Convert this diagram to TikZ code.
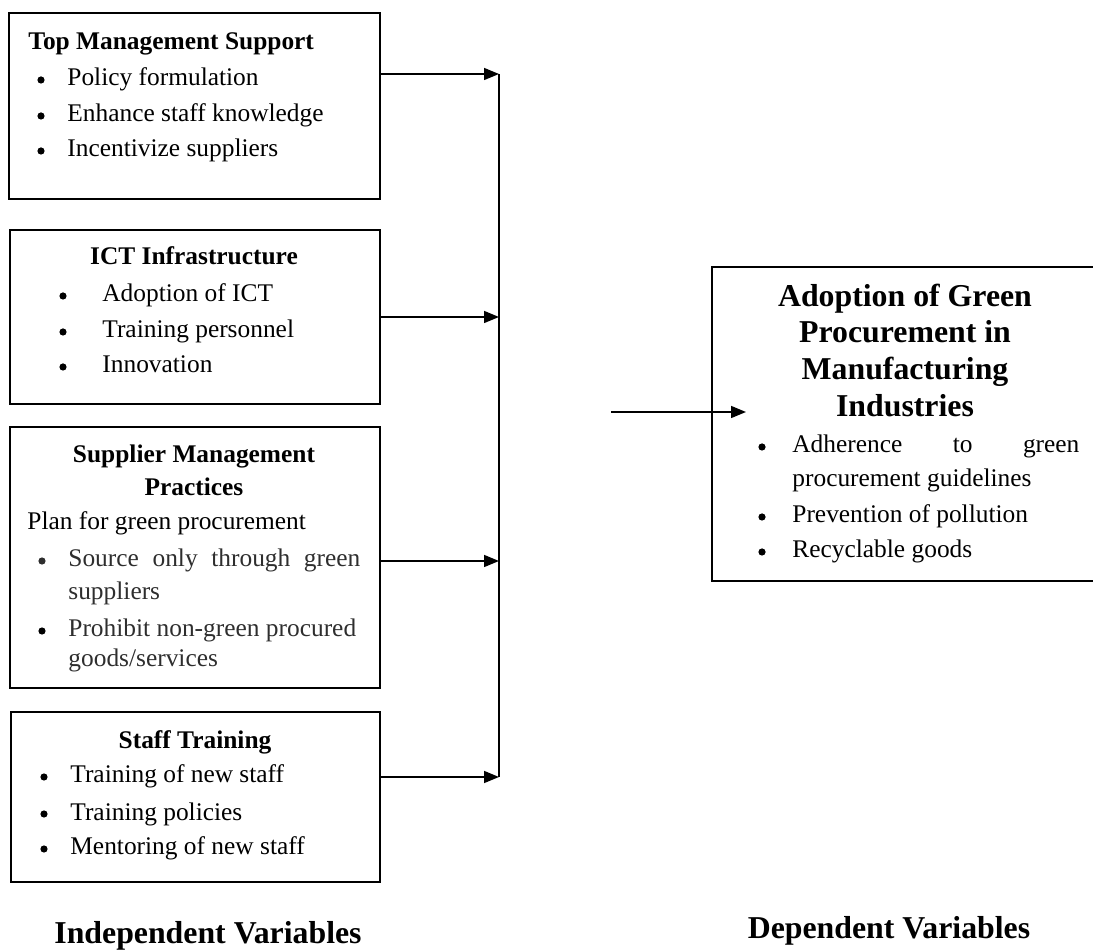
\documentclass[tikz,border=0pt]{standalone}
\usepackage{fontspec}
\setmainfont{Liberation Serif}
\usetikzlibrary{arrows.meta}
\begin{document}
\begin{tikzpicture}[x=0.5pt,y=-0.5pt,
  box/.style={draw=black,line width=1pt},
  body/.style={inner sep=0pt,font=\fontsize{12.7pt}{17pt}\selectfont},
  txt/.style={body,anchor=base west},
  bul/.style={circle,fill=black,inner sep=0pt,minimum size=3.6pt},
  head/.style={inner sep=0pt,anchor=base,font=\fontsize{12.7pt}{17pt}\selectfont\bfseries},
  bighead/.style={inner sep=0pt,anchor=base,font=\fontsize{15.9pt}{20pt}\selectfont\bfseries},
  conn/.style={draw=black,line width=0.75pt},
  arr/.style={conn,-{Triangle[length=7.5pt,width=6pt]}},
  grey/.style={text=black!82},
  greybul/.style={bul,fill=black!82}
]
\useasboundingbox (0,0) rectangle (1093,951);
\clip (0,0) rectangle (1093,951);

% Box 1
\node[box,anchor=north west,minimum width=371pt*0.5,minimum height=186pt*0.5,inner sep=0pt] (box1) at (8,12) {};
\node[txt,font=\fontsize{12.7pt}{17pt}\selectfont\bfseries] (h1) at (28,50) {Top Management Support};
\node[bul] (b11) at (41,80) {};
\node[txt] (t11) at (67,86) {Policy formulation};
\node[bul] (b12) at (41,116) {};
\node[txt] (t12) at (67,122) {Enhance staff knowledge};
\node[bul] (b13) at (41,151) {};
\node[txt] (t13) at (67,157) {Incentivize suppliers};

% Box 2
\node[box,anchor=north west,minimum width=370pt*0.5,minimum height=174pt*0.5,inner sep=0pt] (box2) at (9,229) {};
\node[head] (h2) at (194,265) {ICT Infrastructure};
\node[bul] (b21) at (63,296) {};
\node[txt] (t21) at (102,302) {Adoption of ICT};
\node[bul] (b22) at (63,332) {};
\node[txt] (t22) at (102,338) {Training personnel};
\node[bul] (b23) at (63,367) {};
\node[txt] (t23) at (102,373) {Innovation};

% Box 3
\node[box,anchor=north west,minimum width=370pt*0.5,minimum height=261pt*0.5,inner sep=0pt] (box3) at (9,426) {};
\node[head] (h3a) at (194,463) {Supplier Management};
\node[head] (h3b) at (194,496) {Practices};
\node[txt] (t30) at (27,530) {Plan for green procurement};
\node[greybul] (b31) at (42,561) {};
\node[txt,grey] (t31) at (68,567) {\makebox[146pt][s]{Source only through green}};
\node[txt,grey] (t31b) at (68,600) {suppliers};
\node[bul] (b32) at (42,631) {};
\node[txt,grey] (t32) at (68,637) {Prohibit non-green procured};
\node[txt,grey] (t32b) at (68,667) {goods/services};

% Box 4
\node[box,anchor=north west,minimum width=369pt*0.5,minimum height=170pt*0.5,inner sep=0pt] (box4) at (10,711) {};
\node[head] (h4) at (195,748) {Staff Training};
\node[bul] (b41) at (44,777) {};
\node[txt] (t41) at (70,783) {Training of new staff};
\node[bul] (b42) at (44,814) {};
\node[txt] (t42) at (70,820) {Training policies};
\node[bul] (b43) at (44,849) {};
\node[txt] (t43) at (70,855) {Mentoring of new staff};

% Dependent box
\node[box,anchor=north west,minimum width=400pt*0.5,minimum height=314pt*0.5,inner sep=0pt] (dep) at (711,266) {};
\node[bighead] (d1) at (905,307) {Adoption of Green};
\node[bighead] (d2) at (905,343) {Procurement in};
\node[bighead] (d3) at (905,380) {Manufacturing};
\node[bighead] (d4) at (905,417) {Industries};
\node[bul] (db1) at (762,447) {};
\node[txt] (dt1) at (792,453) {\makebox[143.5pt][s]{Adherence to green}};
\node[txt] (dt1b) at (792,487) {procurement guidelines};
\node[bul] (db2) at (762,517) {};
\node[txt] (dt2) at (792,523) {Prevention of pollution};
\node[bul] (db3) at (762,552) {};
\node[txt] (dt3) at (792,558) {Recyclable goods};

% Bus and connectors
\coordinate (c1) at (499,74);
\coordinate (c2) at (499,317);
\coordinate (c3) at (499,561);
\coordinate (c4) at (499,777);
\coordinate (o1) at (611,412);
\coordinate (o2) at (746,412);
\draw[conn] (c1) -- (c4);
\draw[arr] (c1 -| box1.east) -- (c1);
\draw[arr] (c2 -| box2.east) -- (c2);
\draw[arr] (c3 -| box3.east) -- (c3);
\draw[arr] (c4 -| box4.east) -- (c4);
\draw[arr] (o1) -- (o2);

% Captions
\node[bighead] (indep) at (208,943) {Independent Variables};
\node[bighead] (depl) at (889,938) {Dependent Variables};
\end{tikzpicture}
\end{document}
